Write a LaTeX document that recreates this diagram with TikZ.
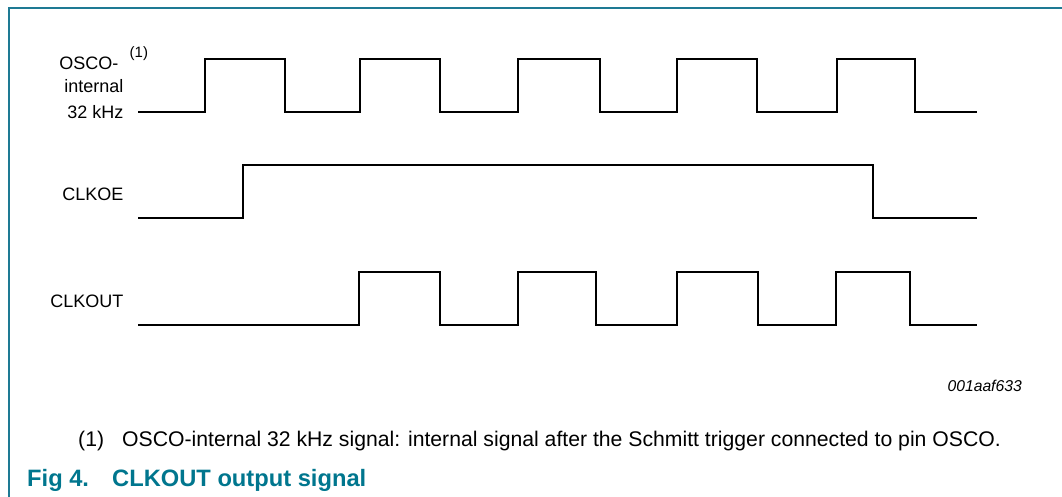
\documentclass[tikz,border=0pt]{standalone}
\usepackage{fontspec}
\setmainfont{Liberation Sans}
\definecolor{frameteal}{RGB}{30,122,148}
\definecolor{captteal}{RGB}{0,118,142}
\begin{document}
\begin{tikzpicture}[x=1pt,y=-1pt,
  wave/.style={line width=2pt, line join=miter, black},
  frameline/.style={line width=1.4pt, frameteal},
  siglabel/.style={inner sep=0pt, anchor=base east, font=\fontsize{18}{22}\selectfont},
  note/.style={inner sep=0pt, anchor=base west, font=\fontsize{21.2}{26}\selectfont},
  caption/.style={inner sep=0pt, anchor=base west, text=captteal, font=\fontsize{23.7}{28}\selectfont\bfseries}]
\useasboundingbox (0,0) rectangle (1062,497);
% frame
\draw[frameline] (9,497) -- (9,8) -- (1062,8);
% labels
\node[siglabel] (osco1) at (118.5,70) {OSCO-};
\node[siglabel] (osco2) at (123.5,92.5) {internal};
\node[siglabel] (osco3) at (123.5,118.5) {32 kHz};
\node[inner sep=0pt, anchor=base west, font=\fontsize{15}{18}\selectfont] (ref1) at (129.5,58) {(1)};
\node[siglabel] (clkoe) at (123.5,200.5) {CLKOE};
\node[siglabel] (clkout) at (123.5,307) {CLKOUT};
% waveforms
\draw[wave] (138,112) -| (205,59) -| (285,112) -| (360,59) -| (440,112) -| (518,59)
  -| (600,112) -| (677,59) -| (757,112) -| (837,59) -| (915,112) -- (977,112);
\draw[wave] (138,218) -| (243,165) -| (873,218) -- (977,218);
\draw[wave] (138,325) -| (359,272) -| (440,325) -| (518,272) -| (596,325) -| (677,272)
  -| (758,325) -| (836,272) -| (910,325) -- (977,325);
% figure id
\node[inner sep=0pt, anchor=base east, font=\fontsize{15.7}{19}\selectfont\itshape] (figid) at (1022,391.5) {001aaf633};
% footnote
\node[note] (fnmark) at (78,446) {(1)};
\node[note] (fntext) at (122,446) {OSCO-internal 32 kHz signal: internal signal after the Schmitt trigger connected to pin OSCO.};
% caption
\node[caption] (capnum) at (27,486) {Fig 4.};
\node[caption] (captext) at (112,486) {CLKOUT output signal};
\end{tikzpicture}
\end{document}
